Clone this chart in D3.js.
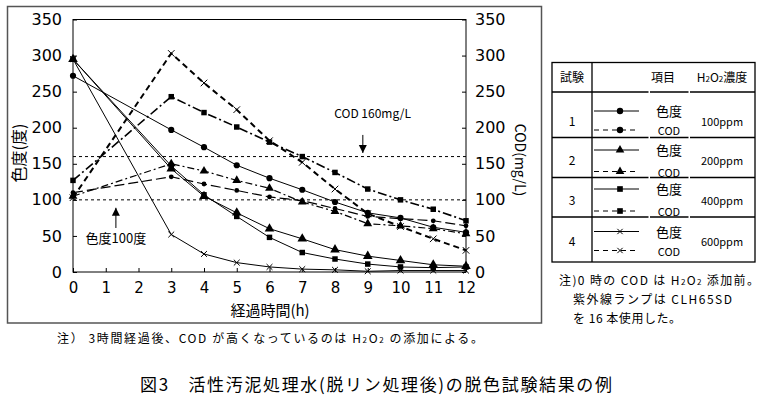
<!DOCTYPE html>
<html><head><meta charset="utf-8">
<script src="https://cdn.jsdelivr.net/npm/d3@7"></script>
<style>
html,body{margin:0;padding:0;background:#fff;}
text{font-family:"Noto Sans CJK JP","DejaVu Sans",sans-serif;fill:#000;}
</style></head>
<body><svg id="c" width="768" height="407"></svg>
<script>
// ---- data ----
const hours = [0,3,4,5,6,7,8,9,10,11,12];
const xTicks = [0,1,2,3,4,5,6,7,8,9,10,11,12];
const yTicks = [0,50,100,150,200,250,300,350];
const color1 = [272,197,173,148,130,114,97,82,75,62,55];
const cod1   = [110,132,122,113,104,99,88,77,74,71,64];
const color2 = [295,143,105,82,60,46,31,22,16,10,8];
const cod2   = [105,150,140,127,116,97,84,67,64,60,53];
const color3 = [295,147,107,77,48,27,18,11,7,6,7];
const cod3   = [127,243,221,201,180,160,138,115,100,87,71];
const color4 = [295,52,25,13,7,4,3,1,2,2,2];
const cod4   = [103,303,262,225,182,152,115,81,63,46,30];
const trials = ["1","2","3","4"];
const concs = ["100ppm","200ppm","400ppm","600ppm"];
const refColor = 100, refCOD = 160;

const svg = d3.select("#c");
const x = d3.scaleLinear().domain([0,12]).range([73,466]);
const y = d3.scaleLinear().domain([0,350]).range([272,19.5]);

// outer frame
svg.append("rect").attr("x",7.5).attr("y",6.5).attr("width",534).attr("height",316.5)
  .attr("fill","none").attr("stroke","#555").attr("stroke-width",1.5);

// plot box
svg.append("rect").attr("x",x(0)).attr("y",y(350)).attr("width",x(12)-x(0)).attr("height",y(0)-y(350))
  .attr("fill","none").attr("stroke","#000");

// reference lines
[refColor, refCOD].forEach(v=>{
  svg.append("line").attr("x1",x(0)).attr("x2",x(12)).attr("y1",y(v)).attr("y2",y(v))
    .attr("stroke","#000").attr("stroke-dasharray","3,3");
});

const ax = svg.append("g").attr("transform",`translate(0,${y(0)})`)
  .call(d3.axisBottom(x).tickValues(xTicks).tickSize(-4).tickPadding(10).tickFormat(d3.format("d")));
const al = svg.append("g").attr("transform",`translate(${x(0)},0)`)
  .call(d3.axisLeft(y).tickValues(yTicks).tickSize(-4).tickPadding(11));
const ar = svg.append("g").attr("transform",`translate(${x(12)},0)`)
  .call(d3.axisRight(y).tickValues(yTicks).tickSize(-4).tickPadding(9));
[ax,al,ar].forEach(g=>{
  g.selectAll(".domain").remove();
  g.selectAll("line").attr("stroke","#000");
  g.selectAll("text").style("font-family","'DejaVu Sans',sans-serif").style("font-size","16px").attr("fill","#000");
});
ax.selectAll("text").style("font-size","15px");

// axis titles
svg.append("text").attr("x",270).attr("y",316).attr("text-anchor","middle").style("font-size","15px").text("経過時間(h)");
svg.append("text").attr("transform","translate(25,153) rotate(-90)").attr("text-anchor","middle").style("font-size","16px").text("色度(度)");
svg.append("text").attr("transform","translate(515,160) rotate(90)").attr("text-anchor","middle").style("font-size","14px").text("COD(mg/L)");

// series
const series = [
  {v:color1, sym:d3.symbolCircle, size:30, dash:null, w:1},
  {v:cod1,   sym:d3.symbolCircle, size:18, dash:"10,4", w:1.2},
  {v:color2, sym:d3.symbolTriangle, size:40, dash:null, w:1},
  {v:cod2,   sym:d3.symbolTriangle, size:34, dash:"7,3,2,3", w:1.2},
  {v:color3, sym:d3.symbolSquare, size:30, dash:null, w:1},
  {v:cod3,   sym:d3.symbolSquare, size:30, dash:"9,3,2,3", w:1.6},
  {v:color4, sym:d3.symbolX, size:24, dash:null, w:1},
  {v:cod4,   sym:d3.symbolX, size:30, dash:"6,4", w:2},
];
const line = d3.line().x((d,i)=>x(hours[i])).y(d=>y(d));
series.forEach(s=>{
  svg.append("path").attr("d",line(s.v)).attr("fill","none").attr("stroke","#000")
    .attr("stroke-width",s.w).attr("stroke-dasharray",s.dash);
  const isX = s.sym===d3.symbolX;
  svg.append("g").selectAll("path").data(s.v).join("path")
    .attr("transform",(d,i)=>`translate(${x(hours[i])},${y(d)})`)
    .attr("d",d3.symbol(s.sym,s.size))
    .attr("fill",isX?"none":"#000").attr("stroke",isX?"#000":"none").attr("stroke-width",1);
});

// annotations
function arrow(xv, yFrom, yTo){
  const x0=x(xv), y1=y(yFrom), y2=y(yTo);
  svg.append("line").attr("x1",x0).attr("x2",x0).attr("y1",y1).attr("y2",y2).attr("stroke","#000");
  const dir = y2>y1?1:-1;
  svg.append("path").attr("d",`M${x0-4},${y2-dir*8}L${x0+4},${y2-dir*8}L${x0},${y2}Z`).attr("fill","#000");
}
svg.append("text").attr("x",x(9.15)).attr("y",y(213)).attr("text-anchor","middle").style("font-size","12px").text("COD 160mg/L");
arrow(8.85,190,165);
svg.append("text").attr("x",x(1.31)).attr("y",y(40)).attr("text-anchor","middle").style("font-size","13px").text("色度100度");
arrow(1.31,61,89);

// legend table
const tb = svg.append("g");
const L=552, R=755, C1=592;
const rowsY=[62.5,92,137.5,177.5,217,262];
tb.append("rect").attr("x",L).attr("y",rowsY[0]).attr("width",R-L).attr("height",rowsY[5]-rowsY[0]).attr("fill","none").attr("stroke","#000").attr("stroke-width",1.3);
tb.append("line").attr("x1",C1).attr("x2",C1).attr("y1",rowsY[0]).attr("y2",rowsY[5]).attr("stroke","#000").attr("stroke-width",1.3);
rowsY.slice(1,5).forEach(ry=>{
  [[L,648.5],[650,688.5],[690,R]].forEach(([a,b])=>{
    tb.append("line").attr("x1",a).attr("x2",b).attr("y1",ry).attr("y2",ry).attr("stroke","#000").attr("stroke-width",1.3);
  });
});
tb.append("text").attr("x",572).attr("y",82).attr("text-anchor","middle").style("font-size","12px").text("試験");
tb.append("text").attr("x",663).attr("y",82).attr("text-anchor","middle").style("font-size","12px").text("項目");
const h = tb.append("text").attr("x",722).attr("y",82).attr("text-anchor","middle").style("font-size","12px");
h.append("tspan").text("H");
h.append("tspan").style("font-size","8px").text("2");
h.append("tspan").text("O");
h.append("tspan").style("font-size","8px").text("2");
h.append("tspan").text("濃度");
const legY = [[111,130,121],[150,171.5,160],[189,211,200],[231.5,250.5,241]];
trials.forEach((t,i)=>{
  const [ys,yd,ym]=legY[i];
  const sc=series[i*2], sd=series[i*2+1];
  tb.append("text").attr("x",572).attr("y",ym+5).attr("text-anchor","middle").style("font-size","12px").text(t);
  tb.append("line").attr("x1",594).attr("x2",639).attr("y1",ys).attr("y2",ys).attr("stroke","#000");
  tb.append("line").attr("x1",594).attr("x2",639).attr("y1",yd).attr("y2",yd).attr("stroke","#000").attr("stroke-dasharray","5,4");
  [[ys,sc],[yd,sd]].forEach(([yy,s])=>{
    const isX=s.sym===d3.symbolX;
    tb.append("path").attr("transform",`translate(620,${yy})`).attr("d",d3.symbol(s.sym,isX?20:32))
      .attr("fill",isX?"none":"#000").attr("stroke",isX?"#000":"none");
  });
  tb.append("text").attr("x",669).attr("y",ys+5).attr("text-anchor","middle").style("font-size","13px").text("色度");
  tb.append("text").attr("x",669).attr("y",yd+5).attr("text-anchor","middle").style("font-size","11px").text("COD");
  tb.append("text").attr("x",722).attr("y",ym+5).attr("text-anchor","middle").style("font-size","11px").text(concs[i]);
});

// notes
function sub(t, parts){ parts.forEach(p=>{ const s=t.append("tspan").text(p[0]); if(p[1]) s.style("font-size","8px"); }); }
const n1 = svg.append("text").attr("x",559).attr("y",285).style("font-size","12px")
  .attr("textLength",200).attr("lengthAdjust","spacing");
sub(n1,[["注)0 時の COD は H"],["2",1],["O"],["2",1],[" 添加前。"]]);
svg.append("text").attr("x",573).attr("y",304).style("font-size","12px")
  .attr("textLength",159).attr("lengthAdjust","spacing").text("紫外線ランプは CLH65SD");
svg.append("text").attr("x",573).attr("y",323).style("font-size","12px")
  .attr("textLength",108).attr("lengthAdjust","spacing").text("を 16 本使用した。");
const n2 = svg.append("text").attr("x",57).attr("y",343).style("font-size","12px")
  .attr("textLength",426).attr("lengthAdjust","spacing");
sub(n2,[["注） 3時間経過後、COD が高くなっているのは H"],["2",1],["O"],["2",1],[" の添加による。"]]);

svg.append("text").attr("x",140).attr("y",391).style("font-size","17px")
  .attr("textLength",472).attr("lengthAdjust","spacing")
  .text("図3　活性汚泥処理水(脱リン処理後)の脱色試験結果の例");
</script></body></html>
